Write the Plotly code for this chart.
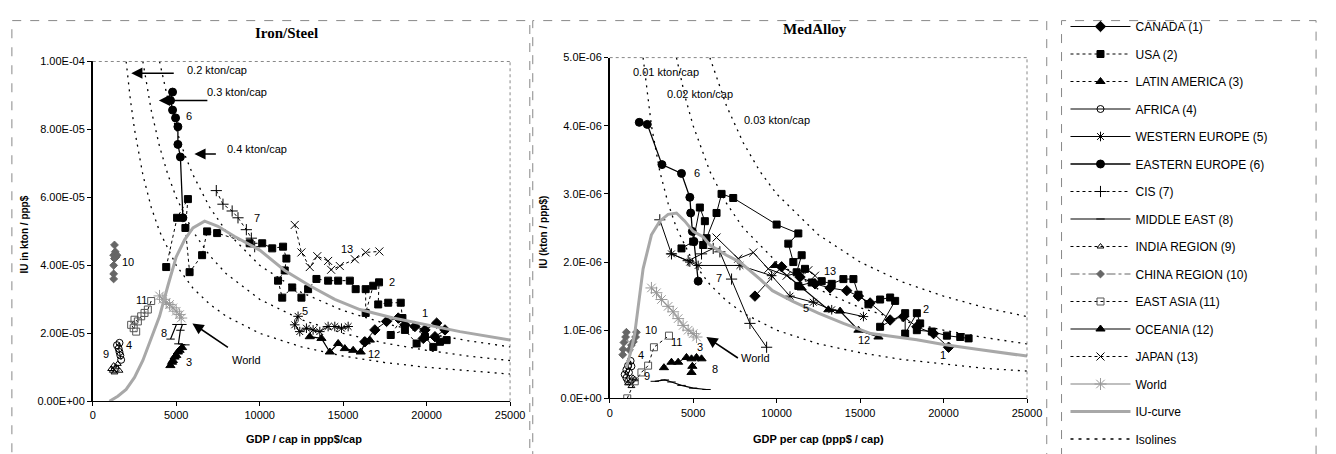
import plotly.graph_objects as go

W, H = 1336, 454

# ---------------- Iron/Steel (IU in units of 1e-5 kton/ppp$) ----------------
IS_CANADA_X = [16300, 16900, 17600, 18300, 18700, 19300, 19900, 20600, 21100, 20500, 19800]
IS_CANADA_Y = [1.75, 2.1, 2.35, 2.45, 2.25, 2.2, 2.1, 2.3, 2.1, 1.9, 1.85]
IS_USA_X = [4400, 5050, 5700, 5550, 5800, 6550, 6850, 7450, 9400, 10150, 10750, 11400, 11600, 11500,
            11100, 11350, 11950, 12500, 12900, 13400, 14100, 14700, 15400, 15750, 16350, 16350, 16800,
            17150, 17100, 17700, 18450, 18550, 17850, 18700, 19400, 19900, 20400, 20800, 21200]
IS_USA_Y = [3.95, 5.4, 5.95, 5.1, 3.8, 4.3, 5.0, 4.95, 4.65, 4.65, 4.5, 4.55, 4.2, 3.85, 3.55, 3.05,
            3.35, 3.05, 3.3, 3.6, 3.55, 3.55, 3.55, 3.3, 3.3, 2.6, 3.4, 3.5, 2.85, 2.9, 2.9, 2.45, 1.95,
            2.1, 1.7, 1.9, 1.6, 1.75, 1.8]
IS_LA_X = [4650, 4750, 4800, 4900, 5000, 5100, 5200, 5350]
IS_LA_Y = [1.05, 1.15, 1.2, 1.3, 1.35, 1.45, 1.5, 1.58]
IS_AFRICA_X = [1450, 1600, 1550, 1600, 1650, 1700]
IS_AFRICA_Y = [1.65, 1.72, 1.55, 1.45, 1.35, 1.22]
IS_WE_X = [12300, 12100, 12400, 12800, 13200, 13600, 14100, 14500, 14900, 15300]
IS_WE_Y = [2.5, 2.25, 2.05, 2.15, 2.1, 2.05, 2.2, 2.2, 2.15, 2.2]
IS_EE_X = [4780, 4660, 4780, 4960, 5100, 5100, 5250, 5400]
IS_EE_Y = [9.1, 8.85, 8.57, 8.34, 8.08, 7.56, 7.19, 5.4]
IS_CIS_X = [7400, 7800, 8350, 8700, 9200, 9500, 9700]
IS_CIS_Y = [6.2, 5.8, 5.6, 5.4, 5.05, 4.8, 4.55]
IS_ME_X = [4660, 5010, 5370, 5250, 5130, 5550]
IS_ME_Y = [1.83, 2.26, 2.26, 2.09, 1.69, 1.66]
IS_INDIA_X = [1100, 1250, 1400, 1500, 1600, 1300, 1200]
IS_INDIA_Y = [0.95, 1.05, 1.0, 1.1, 0.9, 0.85, 0.9]
IS_CHINA_X = [1300, 1350, 1250, 1400, 1450, 1300, 1250, 1250, 1250]
IS_CHINA_Y = [4.6, 4.4, 4.3, 4.25, 4.3, 4.2, 4.0, 3.75, 3.6]
IS_EASTASIA_X = [3500, 3300, 3100, 2900, 2700, 2500, 2300, 2450, 2600]
IS_EASTASIA_Y = [2.95, 2.7, 2.6, 2.5, 2.35, 2.4, 2.25, 2.15, 2.05]
IS_OCEANIA_X = [13000, 13700, 14200, 14700, 15100, 15600, 16050, 16350, 16600]
IS_OCEANIA_Y = [1.9, 1.85, 1.45, 1.7, 1.55, 1.5, 1.45, 1.75, 1.8]
IS_JAPAN_X = [12100, 12500, 13000, 13450, 14100, 14280, 14800, 15700, 16350, 17170]
IS_JAPAN_Y = [5.19, 4.38, 3.95, 4.27, 4.13, 3.87, 3.98, 4.18, 4.38, 4.41]
IS_WORLD_X = [4000, 4200, 4400, 4600, 4800, 5000, 5200, 5300]
IS_WORLD_Y = [3.1, 3.0, 2.9, 2.85, 2.75, 2.65, 2.55, 2.45]
IS_IU_X = [1000, 1500, 2000, 2500, 3000, 3500, 4000, 4500, 5000, 5500, 6000, 6700, 7500, 8500,
           10000, 11500, 13000, 14500, 16000, 18000, 20000, 22000, 25000]
IS_IU_Y = [0, 0.15, 0.35, 0.7, 1.2, 1.85, 2.5, 3.4, 4.25, 4.75, 5.1, 5.3, 5.15, 4.85, 4.45, 3.85,
           3.4, 3.0, 2.7, 2.45, 2.25, 2.05, 1.8]
IS_ISO02_X = [2000, 2250, 2500, 3000, 3500, 4000, 5000, 6000, 7000, 8000, 10000, 12500, 15000, 17500, 20000, 22500, 25000]
IS_ISO02_Y = [10.0, 8.89, 8.0, 6.67, 5.71, 5.0, 4.0, 3.33, 2.86, 2.5, 2.0, 1.6, 1.33, 1.14, 1.0, 0.89, 0.8]
IS_ISO03_X = [3000, 3500, 4000, 4500, 5000, 6000, 7000, 8000, 10000, 12500, 15000, 17500, 20000, 22500, 25000]
IS_ISO03_Y = [10.0, 8.57, 7.5, 6.67, 6.0, 5.0, 4.29, 3.75, 3.0, 2.4, 2.0, 1.71, 1.5, 1.33, 1.2]
IS_ISO04_X = [4000, 4500, 5000, 5500, 6000, 7000, 8000, 10000, 12500, 15000, 17500, 20000, 22500, 25000]
IS_ISO04_Y = [10.0, 8.89, 8.0, 7.27, 6.67, 5.71, 5.0, 4.0, 3.2, 2.67, 2.29, 2.0, 1.78, 1.6]

# ---------------- MedAlloy (IU in units of 1e-6 kton/ppp$) ----------------
MA_CANADA_X = [8700, 10300, 11400, 12300, 13200, 14200, 14900, 15600, 16800, 17600, 18400, 19400, 20300]
MA_CANADA_Y = [1.5, 1.93, 1.78, 1.68, 1.62, 1.58, 1.5, 1.4, 1.15, 1.2, 1.05, 0.95, 0.75]
MA_USA_X = [4300, 5000, 5400, 5700, 5600, 5800, 6400, 6700, 7400, 10000, 11300, 10700, 11000, 11500,
            11200, 11700, 11300, 12100, 12700, 13300, 14000, 14600, 14900, 15500, 16200, 16800, 17100,
            16200, 17700, 17700, 18400, 18600, 18400, 19300, 20200, 21000, 21500]
MA_USA_Y = [2.2, 2.3, 2.8, 2.6, 2.25, 2.35, 2.72, 3.0, 2.94, 2.55, 2.42, 2.27, 2.0, 2.1, 1.85, 1.9,
            1.65, 1.7, 1.72, 1.68, 1.75, 1.75, 1.52, 1.38, 1.45, 1.48, 1.43, 1.05, 1.25, 0.95, 1.25,
            1.1, 1.0, 0.98, 0.92, 0.9, 0.88]
MA_LA_X = [3250, 3700, 4100, 4600, 4900, 5200, 5500, 4950, 4900]
MA_LA_Y = [0.45, 0.53, 0.53, 0.6, 0.58, 0.6, 0.58, 0.47, 0.38]
MA_AFRICA_X = [900, 1000, 1100, 1250, 1300, 1150, 1000, 1100]
MA_AFRICA_Y = [0.35, 0.42, 0.48, 0.55, 0.47, 0.38, 0.3, 0.25]
MA_WE_X = [3700, 4800, 5300, 7800, 9700, 10800, 12200, 13300, 15200]
MA_WE_Y = [2.12, 2.0, 1.95, 1.95, 1.8, 1.5, 1.41, 1.3, 1.2]
MA_EE_X = [1770, 2250, 3130, 4300, 4800, 4850, 4950, 5050, 5300]
MA_EE_Y = [4.05, 4.02, 3.43, 3.3, 2.95, 2.72, 2.45, 2.3, 1.72]
MA_CIS_X = [3000, 3700, 4700, 5500, 6200, 6600, 7300, 8400, 9400]
MA_CIS_Y = [2.62, 2.12, 2.02, 2.12, 2.2, 2.15, 1.75, 1.1, 0.75]
MA_ME_X = [2700, 3300, 3700, 4300, 5000, 5800]
MA_ME_Y = [0.25, 0.27, 0.24, 0.19, 0.15, 0.13]
MA_INDIA_X = [1100, 1250, 1400, 1500, 1300]
MA_INDIA_Y = [0.22, 0.25, 0.3, 0.28, 0.18]
MA_CHINA_X = [780, 800, 850, 950, 1000, 1180, 1300, 1420, 1550, 1600]
MA_CHINA_Y = [0.64, 0.72, 0.82, 0.9, 0.97, 0.71, 0.78, 0.83, 0.9, 0.97]
MA_EASTASIA_X = [1050, 1500, 1900, 2300, 2650, 3550]
MA_EASTASIA_Y = [0.0, 0.25, 0.38, 0.48, 0.75, 0.92]
MA_OCEANIA_X = [9900, 11500, 13100, 13800, 14900, 16100]
MA_OCEANIA_Y = [1.95, 1.62, 1.3, 1.28, 1.0, 0.9]
MA_JAPAN_X = [6400, 7700, 8600, 9500, 10600, 11900, 12300]
MA_JAPAN_Y = [2.36, 2.05, 2.14, 1.9, 1.8, 1.88, 1.8]
MA_WORLD_X = [2500, 2800, 3100, 3500, 3800, 4100, 4400, 4700, 5000, 5200]
MA_WORLD_Y = [1.62, 1.55, 1.45, 1.35, 1.27, 1.17, 1.07, 1.0, 0.95, 0.9]
MA_IU_X = [1000, 1300, 1500, 1750, 2000, 2500, 3000, 3500, 4000, 4500, 5000, 5600, 6000, 7000, 7800,
           9000, 9750, 11000, 12500, 14000, 15650, 18400, 20000, 22000, 25000]
MA_IU_Y = [0.45, 0.72, 0.95, 1.4, 1.9, 2.4, 2.6, 2.7, 2.72, 2.6, 2.45, 2.37, 2.25, 2.1, 2.0, 1.75,
           1.58, 1.42, 1.25, 1.1, 0.95, 0.86, 0.79, 0.72, 0.62]
MA_ISO001_X = [2000, 2500, 3000, 3500, 4000, 5000, 6000, 7000, 8000, 10000, 12500, 15000, 17500, 20000, 22500, 25000]
MA_ISO001_Y = [5.0, 4.0, 3.33, 2.86, 2.5, 2.0, 1.67, 1.43, 1.25, 1.0, 0.8, 0.67, 0.57, 0.5, 0.44, 0.4]
MA_ISO002_X = [4000, 4500, 5000, 6000, 7000, 8000, 10000, 12500, 15000, 17500, 20000, 22500, 25000]
MA_ISO002_Y = [5.0, 4.44, 4.0, 3.33, 2.86, 2.5, 2.0, 1.6, 1.33, 1.14, 1.0, 0.89, 0.8]
MA_ISO003_X = [6000, 7000, 8000, 9000, 10000, 12500, 15000, 17500, 20000, 22500, 25000]
MA_ISO003_Y = [5.0, 4.29, 3.75, 3.33, 3.0, 2.4, 2.0, 1.71, 1.5, 1.33, 1.2]

X_TICKS = [0, 5000, 10000, 15000, 20000, 25000]
X_TICK_TEXT = ["0", "5000", "10000", "15000", "20000", "25000"]
IS_Y_TICKS = [0, 2, 4, 6, 8, 10]
IS_Y_TICK_TEXT = ["0.00E+00", "2.00E-05", "4.00E-05", "6.00E-05", "8.00E-05", "1.00E-04"]
MA_Y_TICKS = [0, 1, 2, 3, 4, 5]
MA_Y_TICK_TEXT = ["0.0E+00", "1.0E-06", "2.0E-06", "3.0E-06", "4.0E-06", "5.0E-06"]

FONT = "Liberation Sans, Arial, sans-serif"
SERIF = "Liberation Serif, Times New Roman, serif"

# name: (symbol, size, marker color, line dash left, line color, line width, dash right)
STYLES = {
    "CANADA (1)": ("diamond", 8, "black", "solid", "black", 1, "solid"),
    "USA (2)": ("square", 7, "black", "dot", "black", 1, "solid"),
    "LATIN AMERICA (3)": ("triangle-up", 8, "black", "dot", "black", 1, "dot"),
    "AFRICA (4)": ("circle-open", 7, "black", "solid", "black", 1, "solid"),
    "WESTERN EUROPE (5)": ("asterisk-open", 8, "black", "solid", "black", 1, "solid"),
    "EASTERN EUROPE (6)": ("circle", 8, "black", "solid", "black", 1.3, "solid"),
    "CIS (7)": ("cross-thin-open", 8, "black", "dot", "black", 1, "solid"),
    "MIDDLE EAST (8)": ("line-ew-open", 6, "black", "solid", "black", 1.2, "solid"),
    "INDIA REGION (9)": ("triangle-up-open", 6, "black", "dot", "black", 1, "dot"),
    "CHINA REGION (10)": ("diamond", 6, "#666", "dashdot", "#666", 1, "dashdot"),
    "EAST ASIA (11)": ("square-open", 7, "#555", "dot", "black", 1, "dot"),
    "OCEANIA (12)": ("triangle-up", 8, "black", "solid", "black", 1.2, "solid"),
    "JAPAN (13)": ("x-thin-open", 8, "black", "dot", "black", 1, "solid"),
    "World": ("asterisk-open", 10, "#999", "solid", "#aaa", 1.5, "solid"),
}

IS_SERIES = [
    ("CANADA (1)", IS_CANADA_X, IS_CANADA_Y), ("USA (2)", IS_USA_X, IS_USA_Y),
    ("LATIN AMERICA (3)", IS_LA_X, IS_LA_Y), ("AFRICA (4)", IS_AFRICA_X, IS_AFRICA_Y),
    ("WESTERN EUROPE (5)", IS_WE_X, IS_WE_Y), ("EASTERN EUROPE (6)", IS_EE_X, IS_EE_Y),
    ("CIS (7)", IS_CIS_X, IS_CIS_Y), ("MIDDLE EAST (8)", IS_ME_X, IS_ME_Y),
    ("INDIA REGION (9)", IS_INDIA_X, IS_INDIA_Y), ("CHINA REGION (10)", IS_CHINA_X, IS_CHINA_Y),
    ("EAST ASIA (11)", IS_EASTASIA_X, IS_EASTASIA_Y), ("OCEANIA (12)", IS_OCEANIA_X, IS_OCEANIA_Y),
    ("JAPAN (13)", IS_JAPAN_X, IS_JAPAN_Y), ("World", IS_WORLD_X, IS_WORLD_Y),
]
MA_SERIES = [
    ("CANADA (1)", MA_CANADA_X, MA_CANADA_Y), ("USA (2)", MA_USA_X, MA_USA_Y),
    ("LATIN AMERICA (3)", MA_LA_X, MA_LA_Y), ("AFRICA (4)", MA_AFRICA_X, MA_AFRICA_Y),
    ("WESTERN EUROPE (5)", MA_WE_X, MA_WE_Y), ("EASTERN EUROPE (6)", MA_EE_X, MA_EE_Y),
    ("CIS (7)", MA_CIS_X, MA_CIS_Y), ("MIDDLE EAST (8)", MA_ME_X, MA_ME_Y),
    ("INDIA REGION (9)", MA_INDIA_X, MA_INDIA_Y), ("CHINA REGION (10)", MA_CHINA_X, MA_CHINA_Y),
    ("EAST ASIA (11)", MA_EASTASIA_X, MA_EASTASIA_Y), ("OCEANIA (12)", MA_OCEANIA_X, MA_OCEANIA_Y),
    ("JAPAN (13)", MA_JAPAN_X, MA_JAPAN_Y), ("World", MA_WORLD_X, MA_WORLD_Y),
]

fig = go.Figure()


def add_series(name, xs, ys, right):
    sym, size, mcol, dash_l, lcol, lw, dash_r = STYLES[name]
    fig.add_trace(go.Scatter(
        x=xs, y=ys, name=name, mode="lines+markers",
        xaxis="x2" if right else "x", yaxis="y2" if right else "y",
        legendgroup=name, showlegend=not right,
        line=dict(color=lcol, width=lw, dash=dash_r if right else dash_l),
        marker=dict(symbol=sym, size=size, color=mcol, line=dict(color=mcol, width=1)),
        hoverinfo="x+y+name",
    ))


def add_line(xs, ys, right, name, color, width, dash, showlegend):
    fig.add_trace(go.Scatter(
        x=xs, y=ys, name=name, mode="lines",
        xaxis="x2" if right else "x", yaxis="y2" if right else "y",
        legendgroup=name, showlegend=showlegend,
        line=dict(color=color, width=width, dash=dash),
    ))


# isolines & IU curve first (drawn underneath)
for xs, ys in [(IS_ISO02_X, IS_ISO02_Y), (IS_ISO03_X, IS_ISO03_Y), (IS_ISO04_X, IS_ISO04_Y)]:
    add_line(xs, ys, False, "Isolines", "black", 1.3, "2px,5px", False)
for xs, ys in [(MA_ISO001_X, MA_ISO001_Y), (MA_ISO002_X, MA_ISO002_Y), (MA_ISO003_X, MA_ISO003_Y)]:
    add_line(xs, ys, True, "Isolines", "black", 1.3, "2px,5px", False)

for name, xs, ys in IS_SERIES:
    add_series(name, xs, ys, False)
add_line(IS_IU_X, IS_IU_Y, False, "IU-curve", "#a8a8a8", 3, "solid", True)
for name, xs, ys in MA_SERIES:
    add_series(name, xs, ys, True)
add_line(MA_IU_X, MA_IU_Y, True, "IU-curve", "#a8a8a8", 3, "solid", False)
# legend-only entry for the isolines
add_line([None], [None], False, "Isolines", "black", 1.3, "3px,5px", True)


def px(x):
    return x / W


def py(y):
    return 1 - y / H


axis_common = dict(showgrid=False, zeroline=False, showline=True, linecolor="black",
                   ticks="outside", ticklen=4, tickcolor="black",
                   tickfont=dict(family=FONT, size=11, color="black"))

fig.update_layout(
    width=W, height=H, autosize=False,
    margin=dict(l=0, r=0, t=0, b=0, pad=0),
    paper_bgcolor="white", plot_bgcolor="white",
    font=dict(family=FONT, size=11, color="black"),
    xaxis=dict(domain=[px(91), px(514)], range=[0, 25000], anchor="y",
               tickvals=X_TICKS, ticktext=X_TICK_TEXT, linewidth=1, **axis_common),
    yaxis=dict(domain=[py(406), py(57)], range=[0, 10], anchor="x",
               tickvals=IS_Y_TICKS, ticktext=IS_Y_TICK_TEXT, linewidth=1.5, **axis_common),
    xaxis2=dict(domain=[px(615), px(1038)], range=[0, 25000], anchor="y2",
                tickvals=X_TICKS, ticktext=X_TICK_TEXT, linewidth=1, **axis_common),
    yaxis2=dict(domain=[py(403), py(53)], range=[0, 5], anchor="x2",
                tickvals=MA_Y_TICKS, ticktext=MA_Y_TICK_TEXT, linewidth=1.5, **axis_common),
    legend=dict(x=px(1077), y=py(13), xanchor="left", yanchor="top",
                font=dict(family=FONT, size=12, color="black"),
                bgcolor="rgba(0,0,0,0)", borderwidth=0, maxheight=470,
                tracegroupgap=8.5, itemwidth=60, traceorder="grouped"),
    showlegend=True,
)

shapes = []
# panel borders
for x0, x1 in [(9, 534), (537, 1058), (1073, 1331)]:
    shapes.append(dict(type="rect", xref="paper", yref="paper", x0=px(x0), x1=px(x1),
                       y0=-0.05, y1=py(15), line=dict(color="#888", width=1, dash="dash")))
# plot-area top/right dotted border
for xr, yr in [("x domain", "y domain"), ("x2 domain", "y2 domain")]:
    shapes.append(dict(type="line", xref=xr, yref=yr, x0=0, x1=1, y0=1, y1=1,
                       line=dict(color="#888", width=1, dash="dot")))
    shapes.append(dict(type="line", xref=xr, yref=yr, x0=1, x1=1, y0=0, y1=1,
                       line=dict(color="#888", width=1, dash="dot")))
fig.update_layout(shapes=shapes)

ann = []


def txt(text, x, y, size=11, bold=False, family=FONT, angle=0):
    ann.append(dict(text=f"<b>{text}</b>" if bold else text, x=px(x), y=py(y), xref="paper", yref="paper",
                    showarrow=False, xanchor="center", yanchor="middle", textangle=angle,
                    font=dict(family=family, size=size, color="black")))


def arrow(tx, ty, hx, hy):
    ann.append(dict(text="", x=px(hx), y=py(hy), xref="paper", yref="paper",
                    ax=tx - hx, ay=ty - hy, axref="pixel", ayref="pixel", showarrow=True,
                    arrowhead=2, arrowsize=1.4, arrowwidth=1.6, arrowcolor="black"))


def dlabel(text, x, y, right):
    ann.append(dict(text=text, x=x, y=y, xref="x2" if right else "x", yref="y2" if right else "y",
                    showarrow=False, xanchor="center", yanchor="middle",
                    font=dict(family=FONT, size=11, color="black")))


# titles
txt("Iron/Steel", 287, 28, size=15, bold=True, family=SERIF)
txt("MedAlloy", 823, 24, size=15, bold=True, family=SERIF)
txt("GDP / cap in ppp$/cap", 305, 445, size=11, bold=True)
txt("GDP per cap (ppp$ / cap)", 827, 445, size=11, bold=True)
txt("IU in kton / ppp$", 22, 235, size=10, bold=True, angle=-90)
txt("IU (kton / ppp$)", 548, 232, size=10, bold=True, angle=-90)

# isoline labels and arrows (left)
txt("0.2 kton/cap", 217, 66)
arrow(174, 69, 130, 69)
txt("0.3 kton/cap", 237, 88)
arrow(208, 97, 158, 97)
txt("0.4 kton/cap", 257, 147)
arrow(217, 152, 194, 152)
txt("World", 247, 364)
arrow(229, 351, 192, 326)
# isoline labels (right)
txt("0.01 kton/cap", 672, 68)
txt("0.02 kton/cap", 707, 90)
txt("0.03 kton/cap", 785, 117)
txt("World", 763, 362)
arrow(746, 362, 713, 340)

# region numbers (left)
for t, x, y in [("6", 5780, 8.39), ("7", 9850, 5.39), ("13", 15220, 4.47), ("2", 17940, 3.52),
                ("1", 19880, 2.61), ("5", 12690, 2.66), ("12", 16870, 1.40), ("10", 2120, 4.10),
                ("11", 2890, 2.98), ("8", 4250, 2.0), ("4", 2180, 1.66), ("9", 770, 1.40), ("3", 5780, 1.17)]:
    dlabel(t, x, y, False)
# region numbers (right)
for t, x, y in [("6", 5200, 3.3), ("7", 6560, 1.76), ("13", 13170, 1.87), ("5", 11750, 1.33),
                ("2", 18960, 1.31), ("12", 15240, 0.86), ("1", 19960, 0.64), ("10", 2480, 1.01),
                ("11", 4020, 0.83), ("3", 5430, 0.76), ("4", 1890, 0.64), ("9", 2240, 0.33), ("8", 6320, 0.43)]:
    dlabel(t, x, y, True)

fig.update_layout(annotations=ann)
fig.write_html("out.html", config={"displayModeBar": False},
               post_script="document.body.style.margin='0px';document.body.style.overflow='hidden';")
